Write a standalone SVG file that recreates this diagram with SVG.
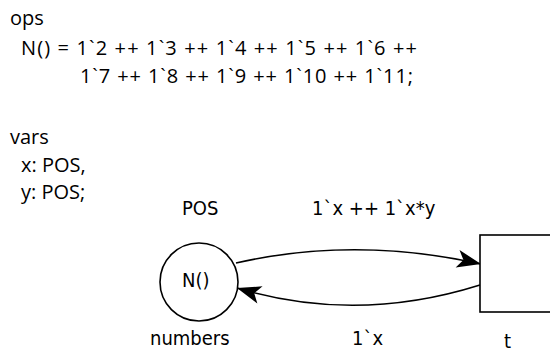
<svg xmlns="http://www.w3.org/2000/svg" width="550" height="354" viewBox="0 0 550 354">
  <style>
    .decl { font-family: "Open Sans", "Noto Sans", sans-serif; font-size: 20px; fill: #000; }
    .lbl { font-family: "DejaVu Sans Condensed", "DejaVu Sans", sans-serif; font-stretch: condensed; font-size: 20px; fill: #000; }
    .shape { fill: #fff; stroke: #000; stroke-width: 1.6; }
    .arc { fill: none; stroke: #000; stroke-width: 1.6; marker-end: url(#head); }
  </style>
  <defs>
    <marker id="head" markerUnits="userSpaceOnUse" viewBox="-26 -11 28 22" refX="0" refY="0" markerWidth="28" markerHeight="22" orient="auto">
      <path d="M0,0 L-24,-9 L-18,0 L-24,9 Z" fill="#000"/>
    </marker>
  </defs>

  <rect width="550" height="354" fill="#fff"/>

  <!-- declarations -->
  <g id="declarations" class="decl">
    <text x="10" y="25">ops</text>
    <text x="21" y="55" textLength="396" lengthAdjust="spacing">N() = 1`2 ++ 1`3 ++ 1`4 ++ 1`5 ++ 1`6 ++</text>
    <text x="80" y="83" textLength="333" lengthAdjust="spacing">1`7 ++ 1`8 ++ 1`9 ++ 1`10 ++ 1`11;</text>
    <text x="10" y="144">vars</text>
    <text x="21" y="172">x: POS,</text>
    <text x="21" y="199">y: POS;</text>
  </g>

  <!-- arcs between place and transition -->
  <g id="arcs">
    <path class="arc" d="M236,263 Q355,236 481,264"/>
    <text class="lbl" x="312" y="215">1`x ++ 1`x*y</text>
    <path class="arc" d="M480,285 Q356,324 237,288"/>
    <text class="lbl" x="352" y="345">1`x</text>
  </g>

  <!-- place: numbers -->
  <g id="place-numbers">
    <circle class="shape" cx="199" cy="282" r="39"/>
    <text class="lbl" x="182" y="215">POS</text>
    <text class="lbl" x="182" y="287">N()</text>
    <text class="lbl" x="150" y="345">numbers</text>
  </g>

  <!-- transition: t -->
  <g id="transition-t">
    <rect class="shape" x="480" y="235" width="100" height="77"/>
    <text class="lbl" x="504" y="348">t</text>
  </g>
</svg>
